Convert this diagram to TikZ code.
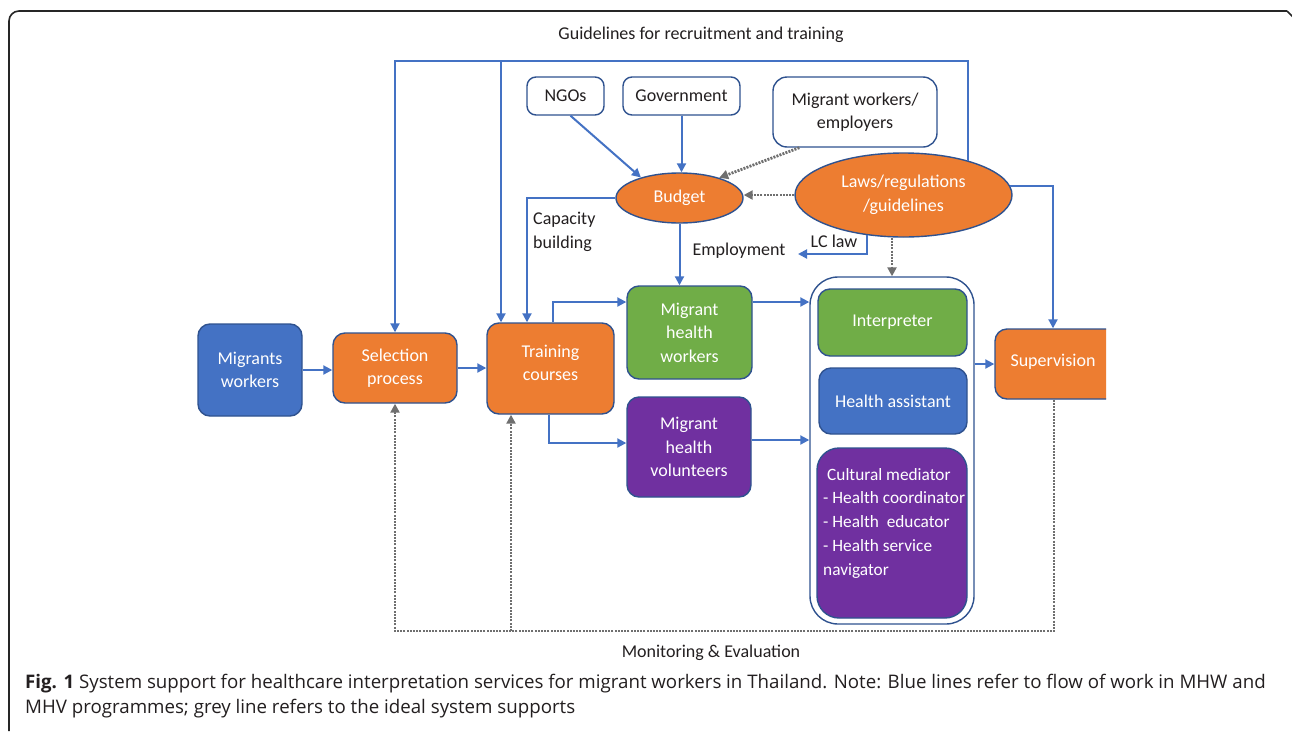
\documentclass[tikz,border=0pt]{standalone}
\usepackage{fontspec}
\setmainfont{Carlito}
\newfontfamily\capfont{Open Sans}
\usetikzlibrary{arrows.meta,shapes.geometric}
\definecolor{lblue}{HTML}{4472C4}
\definecolor{bord}{HTML}{2F528F}
\definecolor{orng}{HTML}{ED7D31}
\definecolor{grn}{HTML}{70AD47}
\definecolor{purp}{HTML}{7030A0}
\definecolor{gry}{HTML}{6F6F6F}
\definecolor{txt}{HTML}{231F20}
\begin{document}
\begin{tikzpicture}[x=1pt,y=-1pt,
 every node/.style={font=\fontsize{18}{23.5}\selectfont, text=txt},
 box/.style={draw=bord, line width=1.4pt, rounded corners=12pt, inner sep=0pt, align=center, text=white},
 wbox/.style={draw=bord, line width=1.4pt, rounded corners=9pt, inner sep=0pt, align=center, fill=white},
 oval/.style={ellipse, draw=bord, line width=1.4pt, fill=orng, inner sep=0pt, align=center, text=white},
 flow/.style={draw=lblue, line width=2pt, -{Triangle[length=9pt,width=9pt]}},
 gflow/.style={draw=gry, line width=2.8pt, dash pattern=on 2pt off 1.2pt, -{Triangle[length=9pt,width=9pt]}},
]
\useasboundingbox (0,0) rectangle (1292,731);
\fill[white] (0,0) rectangle (1292,731);
\draw[line width=1.6pt, draw=black!85, rounded corners=10pt] (9,731) -- (9,11) -- (1287,11);
\draw[line width=1.6pt, draw=black!85] (1287,11) -- (1293,17);

% main flow
\node[box, fill=lblue, minimum width=104, minimum height=92] (mig) at (250,370) {Migrants\\workers};
\node[box, fill=orng, minimum width=124, minimum height=70] (sel) at (395,368) {Selection\\process};
\node[box, fill=orng, minimum width=127, minimum height=91, label={[text=white, align=center, yshift=5.5pt]center:Training\\courses}] (train) at (550.5,368.5) {};
\node[box, fill=grn, minimum width=125, minimum height=93] (mhw) at (689.5,332.5) {Migrant\\health\\workers};
\node[box, fill=purp, minimum width=124, minimum height=100] (mhv) at (689,447) {Migrant\\health\\volunteers};

% container
\node[wbox, rounded corners=28pt, minimum width=164, minimum height=347] (cont) at (892,450.5) {};
\node[box, fill=grn, minimum width=149, minimum height=67] (interp) at (892.5,322.5) {Interpreter};
\node[box, fill=lblue, minimum width=148, minimum height=66] (ha) at (893,401) {Health assistant};
\node[box, fill=purp, minimum width=150, minimum height=170, rounded corners=22pt] (cm) at (892,533) {};
\node[anchor=north west, inner sep=0pt, text=white, align=left, font=\fontsize{17.3}{23.7}\selectfont] (cmtext) at (823,468) {\hspace*{4pt}Cultural mediator\\- Health coordinator\\- Health\ \ educator\\- Health service\\navigator};

% supervision (cut at right)
\begin{scope}
\clip (0,0) rectangle (1106,731);
\node[box, fill=orng, minimum width=140, minimum height=70, label={[text=white, xshift=-12pt, yshift=2pt]center:Supervision}] (sup) at (1065,364) {};
\end{scope}

% budget area
\node[oval, minimum width=127, minimum height=50] (bud) at (679.5,198) {Budget};
\node[oval, minimum width=217, minimum height=84] (laws) at (903.5,195) {Laws/regulations\\/guidelines};
\node[wbox, minimum width=77, minimum height=38] (ngo) at (565.5,96) {NGOs};
\node[wbox, minimum width=117, minimum height=38] (gov) at (681.5,96) {Government};
\node[wbox, minimum width=164, minimum height=70, rounded corners=14pt] (mwe) at (855,112) {Migrant workers/\\employers};

% plain labels
\node (title) at (701,35) {Guidelines for recruitment and training};
\node[align=left, anchor=west, inner sep=0pt] (capb) at (533,232) {Capacity\\building};
\node (emp) at (739,251) {Employment};
\node (lc) at (834,241) {LC law};
\node (me) at (711,653) {Monitoring \& Evaluation};
\coordinate (lcend) at (798,254);

% caption
\node[anchor=north west, align=left, inner sep=0pt, font=\capfont\fontsize{18.7}{25}\selectfont] (fig) at (25,674) {\textbf{Fig. 1} System support for healthcare interpretation services for migrant workers in Thailand. Note: Blue lines refer to flow of work in MHW and\\MHV programmes; grey line refers to the ideal system supports};

% connectors
\draw[flow] (mig.east) -- (mig.east -| sel.west);
\draw[flow] (sel.east) -- (sel.east -| train.west);
\draw[flow] ([xshift=2.5pt]train.north) |- ([yshift=30.5pt]mhw.west);
\draw[flow] ([xshift=-1.5pt]train.south) |- ([yshift=4pt]mhv.west);
\draw[flow] ([yshift=30.5pt]mhw.east) -- ([yshift=30.5pt]mhw.east -| cont.west);
\draw[flow] ([yshift=7pt]mhv.east) -- ([yshift=7pt]mhv.east -| cont.west);
\draw[flow] (sup.west -| cont.east) -- (sup.west);

\draw[flow] ([xshift=5pt]ngo.south) -- (bud.152);
\draw[flow] (gov.south) -- (gov.south |- bud.north);
\draw[gflow] ([xshift=27pt]mwe.south west) -- (bud.27);
\draw[gflow] (laws.west) -- (laws.west -| bud.east);
\draw[flow] (bud.west) -| ([xshift=-23.5pt]train.north);
\draw[flow] (bud.south) -- (bud.south |- mhw.north);
\draw[flow] (laws.228) |- (lcend);
\draw[gflow] (laws.south -| cont.north) -- (cont.north);
\draw[flow] (laws.5) -| ([xshift=-12pt]sup.north);

\draw[flow] (laws.28) |- (sel.north |- 0,61) -- (sel.north);
\draw[flow] ([xshift=-49.5pt]train.north |- 0,61) -- ([xshift=-49.5pt]train.north);

\coordinate (meS) at ([xshift=-11pt]sup.south);
\draw[gflow] (meS) |- (sel.south |- 0,631) -- (sel.south);
\draw[gflow] ([xshift=-39.5pt]train.south |- 0,631) -- ([xshift=-39.5pt]train.south);
\end{tikzpicture}
\end{document}
